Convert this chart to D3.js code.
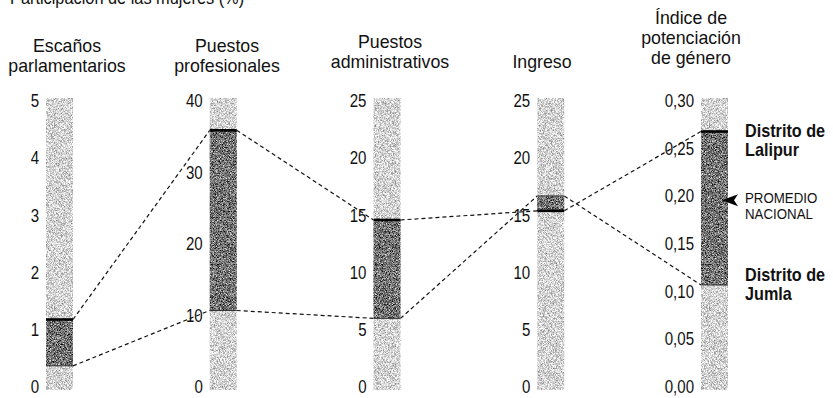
<!DOCTYPE html>
<html><head><meta charset="utf-8">
<script src="https://cdn.jsdelivr.net/npm/d3@7"></script>
<style>
body{margin:0;background:#fff}
svg{display:block}
text{font-family:"Liberation Sans Narrow","Liberation Sans",Arial,sans-serif;fill:#111}
</style></head><body>
<svg id="chart" width="833" height="398"></svg>
<script>
// ---------- data ----------
const title = "Participación de las mujeres (%)";
const categories = ["Escaños parlamentarios","Puestos profesionales","Puestos administrativos","Ingreso","Índice de potenciación de género"];
const headerLines = [["Escaños","parlamentarios"],["Puestos","profesionales"],["Puestos","administrativos"],["Ingreso"],["Índice de","potenciación","de género"]];
const axisMax = [5, 40, 25, 25, 0.30];
const tickValues = [[0,1,2,3,4,5],[0,10,20,30,40],[0,5,10,15,20,25],[0,5,10,15,20,25],[0,0.05,0.10,0.15,0.20,0.25,0.30]];
const lalipur = [1.18, 35.9, 14.6, 15.4, 0.268];   // Distrito de Lalipur
const jumla   = [0.37, 10.7, 6.0, 16.7, 0.107];    // Distrito de Jumla
const nationalAverageIPG = 0.196;
const districtNames = [["Distrito de","Lalipur"],["Distrito de","Jumla"]];
const averageLabel = ["PROMEDIO","NACIONAL"];

// ---------- layout ----------
const barW = 27;
const yTop = 101, yBottom = 387;
const headerCx = [67, 227, 390, 542, 691];
const headerBaselines = [[52,72],[52,72],[48,68],[68],[24,44,64]];
const SX = 0.86; // horizontal condensation of the type

const svg = d3.select("#chart");
const defs = svg.append("defs");

function grain(id, k, m, seed, freq) {
  const f = defs.append("filter").attr("id", id)
    .attr("x", 0).attr("y", 0).attr("width", "100%").attr("height", "100%")
    .attr("color-interpolation-filters", "sRGB");
  f.append("feTurbulence").attr("type", "fractalNoise").attr("baseFrequency", freq)
    .attr("numOctaves", 1).attr("seed", seed).attr("result", "n");
  const b = m - 0.5 * k;
  f.append("feColorMatrix").attr("in", "n").attr("type", "matrix")
    .attr("values", `${k} 0 0 0 ${b}  ${k} 0 0 0 ${b}  ${k} 0 0 0 ${b}  0 0 0 0 1`).attr("result", "g");
  f.append("feComposite").attr("in", "g").attr("in2", "SourceAlpha").attr("operator", "in");
}
grain("grainLight", 1.2, 0.83, 3, 1.4);
grain("grainDark", 1.8, 0.45, 7, 1.3);

function ctext(parent, x, y, str, size, opts = {}) {
  const t = parent.append("text")
    .attr("transform", `translate(${x},${y}) scale(${opts.sx || SX},1)`)
    .attr("font-size", size)
    .attr("text-anchor", opts.anchor || "start")
    .text(str);
  if (opts.bold) t.attr("font-weight", "bold");
  if (opts.fill) t.attr("fill", opts.fill);
  return t;
}

const xCol = d3.scalePoint().domain(categories).range([46, 701]);
const yScales = axisMax.map(m => d3.scaleLinear().domain([0, m]).range([yBottom, yTop]));

// title (partly cut off at the top, as in the source)
ctext(svg, 10, 4, title, 19, { fill: "#222" });

// connecting dashed lines
const lineG = svg.append("g").attr("fill", "none").attr("stroke", "#111")
  .attr("stroke-width", 1.2).attr("stroke-dasharray", "4,3");
[lalipur, jumla].forEach(series => {
  for (let i = 0; i < categories.length - 1; i++) {
    lineG.append("line")
      .attr("x1", xCol(categories[i]) + barW).attr("y1", yScales[i](series[i]))
      .attr("x2", xCol(categories[i + 1])).attr("y2", yScales[i + 1](series[i + 1]));
  }
});

// columns
categories.forEach((c, i) => {
  const g = svg.append("g").attr("transform", `translate(${xCol(c)},0)`);
  const y = yScales[i];
  g.append("rect").attr("x", 0).attr("y", y(axisMax[i]) - 3).attr("width", barW)
    .attr("height", y(0) - y(axisMax[i]) + 6).attr("fill", "#d2d2d2").attr("filter", "url(#grainLight)");
  const hi = Math.max(lalipur[i], jumla[i]), lo = Math.min(lalipur[i], jumla[i]);
  g.append("rect").attr("x", 0).attr("y", y(hi)).attr("width", barW)
    .attr("height", y(lo) - y(hi)).attr("fill", "#707070").attr("filter", "url(#grainDark)");
  g.append("line").attr("x1", 0).attr("x2", barW).attr("y1", y(jumla[i])).attr("y2", y(jumla[i]))
    .attr("stroke", "#333").attr("stroke-width", 1);
  g.append("line").attr("x1", 0).attr("x2", barW).attr("y1", y(lalipur[i])).attr("y2", y(lalipur[i]))
    .attr("stroke", "#000").attr("stroke-width", 2.6);

  const fmt = i === 4 ? (d => d3.format(".2f")(d).replace(".", ",")) : d3.format("d");
  const ax = g.append("g").call(d3.axisLeft(y).tickValues(tickValues[i]).tickSize(0).tickPadding(7).tickFormat(fmt));
  ax.select(".domain").remove();
  ax.attr("font-family", null).attr("font-size", null);
  ax.selectAll("text").attr("font-size", 17.5).attr("fill", "#111")
    .each(function () {
      const x = +this.getAttribute("x");
      d3.select(this).attr("x", 0).attr("transform", `translate(${x},0) scale(${SX},1)`);
    });

  headerLines[i].forEach((t, j) => {
    ctext(svg, headerCx[i], headerBaselines[i][j], t, 18.5, { anchor: "middle", sx: 0.96 });
  });
});

// district labels and national average (IPG column)
const last = categories.length - 1;
const yI = yScales[last];
const xR = xCol(categories[last]) + barW;
const lblX = xR + 17;
[[lalipur[last], 5], [jumla[last], -4]].forEach(([v, off], k) => {
  districtNames[k].forEach((t, j) => {
    ctext(svg, lblX, yI(v) + off + j * 19, t, 18, { bold: true, sx: 0.9 });
  });
});
const ya = yI(nationalAverageIPG);
svg.append("path")
  .attr("d", `M${xR - 6},${ya} L${xR + 10},${ya - 6} L${xR + 6},${ya} L${xR + 10},${ya + 6} Z`)
  .attr("fill", "#000");
averageLabel.forEach((t, j) => {
  ctext(svg, lblX, ya + 3 + j * 16, t, 14, { sx: 0.95 });
});
</script>
</body></html>
